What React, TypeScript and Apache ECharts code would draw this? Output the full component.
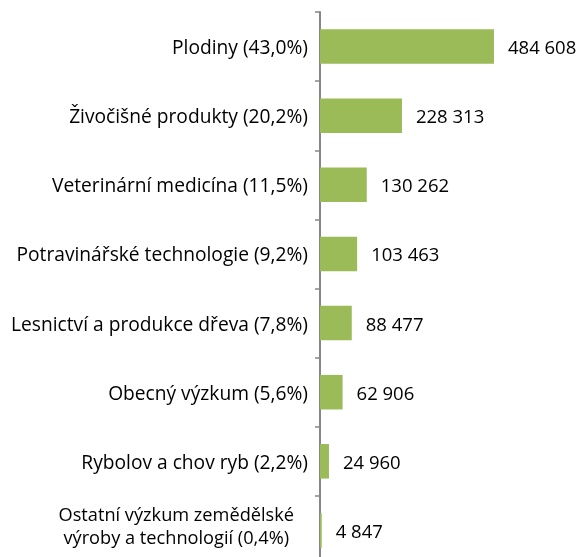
import React, { useEffect, useRef } from "react";
import * as echarts from "echarts";

const categories = [
  "Plodiny (43,0%)",
  "Živočišné produkty (20,2%)",
  "Veterinární medicína (11,5%)",
  "Potravinářské technologie (9,2%)",
  "Lesnictví a produkce dřeva (7,8%)",
  "Obecný výzkum (5,6%)",
  "Rybolov a chov ryb (2,2%)",
  "Ostatní výzkum zemědělské\nvýroby a technologií (0,4%)",
];

const values = [484608, 228313, 130262, 103463, 88477, 62906, 24960, 4847];

const fmt = (v: number) => String(v).replace(/\B(?=(\d{3})+(?!\d))/g, " ");

export default function App() {
  const ref = useRef<HTMLDivElement>(null);
  useEffect(() => {
    document.body.style.margin = "0";
    const chart = echarts.init(ref.current!, null, { renderer: "svg" });
    const font = "'Open Sans', 'Liberation Sans', sans-serif";
    chart.setOption({
      animation: false,
      grid: {
        left: 320,
        top: 12,
        width: 179.5,
        height: 553,
        outerBoundsMode: "none",
      },
      xAxis: {
        type: "value",
        min: 0,
        max: 500000,
        show: false,
      },
      yAxis: {
        type: "category",
        inverse: true,
        data: categories,
        axisLine: { show: true, lineStyle: { color: "#868686", width: 2 } },
        axisTick: { show: true, length: 5, lineStyle: { color: "#868686", width: 1.5 } },
        axisLabel: {
          margin: 12,
          color: "#000",
          fontFamily: font,
          fontSize: 19.2,
          lineHeight: 22,
          formatter: (v: string) => (v.includes("\n") ? `{w|${v}}` : v),
          rich: {
            w: {
              color: "#000",
              fontFamily: font,
              fontSize: 18.2,
              lineHeight: 22.5,
              align: "center",
              padding: [0, 14, 10, 0],
            },
          },
        },
        splitLine: { show: false },
      },
      series: [
        {
          type: "bar",
          data: values,
          barCategoryGap: "50%",
          itemStyle: { color: "#9BBB59" },
          label: {
            show: true,
            position: "right",
            distance: 14,
            color: "#000",
            fontFamily: font,
            fontSize: 18.5,
            formatter: (p: any) => fmt(p.value),
          },
        },
      ],
    });
    return () => chart.dispose();
  }, []);
  return (
    <div
      ref={ref}
      style={{ position: "fixed", left: 0, top: 0, width: 580, height: 600 }}
    />
  );
}
